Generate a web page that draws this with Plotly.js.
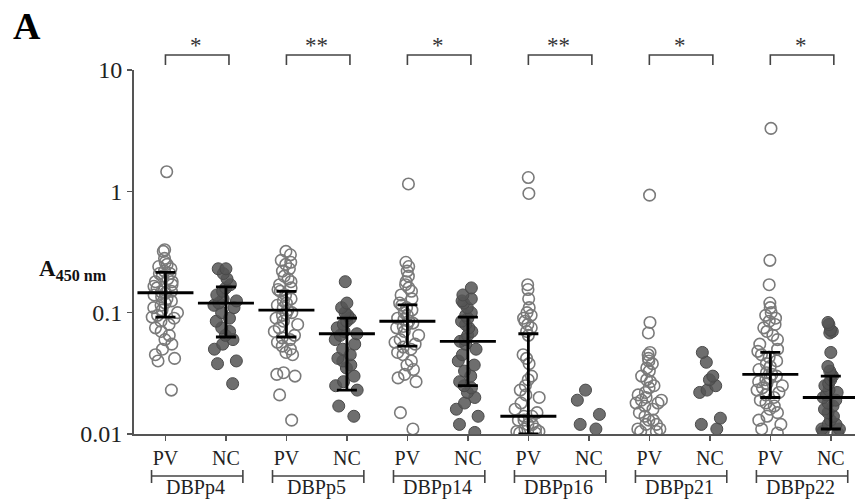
<!DOCTYPE html>
<html>
<head>
<meta charset="utf-8">
<script src="https://cdn.plot.ly/plotly-3.0.1.min.js"></script>
<style>html,body{margin:0;padding:0;background:#fff;}#chart{width:855px;height:500px;}</style>
</head>
<body>
<div id="chart"></div>
<script>
// ---- data ----
const peptides = ['DBPp4', 'DBPp5', 'DBPp14', 'DBPp16', 'DBPp21', 'DBPp22'];
const groupLabels = ['PV', 'NC'];
const significance = ['*', '**', '*', '**', '*', '*'];

const pv_DBPp4 = [1.45, 0.33, 0.32, 0.28, 0.26, 0.25, 0.24, 0.23, 0.22, 0.21, 0.21, 0.20, 0.19, 0.18, 0.18, 0.17, 0.165, 0.16, 0.155, 0.15, 0.148, 0.145, 0.14, 0.135, 0.13, 0.125, 0.12, 0.115, 0.11, 0.105, 0.10, 0.095, 0.092, 0.09, 0.085, 0.08, 0.075, 0.07, 0.065, 0.06, 0.055, 0.05, 0.045, 0.042, 0.04, 0.023];
const nc_DBPp4 = [0.23, 0.23, 0.21, 0.19, 0.17, 0.16, 0.15, 0.14, 0.13, 0.125, 0.12, 0.115, 0.11, 0.10, 0.09, 0.085, 0.075, 0.07, 0.065, 0.06, 0.055, 0.05, 0.04, 0.038, 0.026];
const pv_DBPp5 = [0.32, 0.30, 0.27, 0.26, 0.25, 0.23, 0.22, 0.20, 0.19, 0.18, 0.17, 0.16, 0.155, 0.15, 0.14, 0.13, 0.125, 0.12, 0.115, 0.11, 0.105, 0.10, 0.098, 0.095, 0.09, 0.085, 0.08, 0.075, 0.07, 0.065, 0.062, 0.06, 0.057, 0.053, 0.05, 0.047, 0.045, 0.032, 0.031, 0.03, 0.021, 0.013];
const nc_DBPp5 = [0.18, 0.12, 0.11, 0.10, 0.095, 0.09, 0.085, 0.08, 0.075, 0.07, 0.067, 0.065, 0.06, 0.055, 0.05, 0.045, 0.042, 0.04, 0.037, 0.035, 0.03, 0.027, 0.025, 0.023, 0.017, 0.014];
const pv_DBPp14 = [1.15, 0.26, 0.24, 0.22, 0.20, 0.18, 0.17, 0.16, 0.15, 0.14, 0.13, 0.12, 0.115, 0.11, 0.105, 0.10, 0.095, 0.09, 0.088, 0.085, 0.082, 0.08, 0.077, 0.075, 0.07, 0.065, 0.06, 0.057, 0.055, 0.052, 0.05, 0.047, 0.045, 0.04, 0.037, 0.034, 0.031, 0.029, 0.027, 0.015, 0.011];
const nc_DBPp14 = [0.16, 0.14, 0.13, 0.125, 0.12, 0.11, 0.10, 0.095, 0.09, 0.085, 0.08, 0.075, 0.07, 0.065, 0.06, 0.058, 0.055, 0.05, 0.045, 0.04, 0.037, 0.033, 0.03, 0.027, 0.025, 0.024, 0.022, 0.02, 0.018, 0.016, 0.014, 0.012, 0.0103];
const pv_DBPp16 = [1.30, 0.96, 0.17, 0.155, 0.13, 0.11, 0.10, 0.095, 0.09, 0.085, 0.08, 0.075, 0.07, 0.065, 0.045, 0.042, 0.038, 0.03, 0.028, 0.025, 0.023, 0.021, 0.02, 0.018, 0.016, 0.015, 0.014, 0.014, 0.013, 0.013, 0.012, 0.012, 0.011, 0.011, 0.0105, 0.0105, 0.0102, 0.0102];
const nc_DBPp16 = [0.023, 0.019, 0.0145, 0.012, 0.011];
const pv_DBPp21 = [0.93, 0.083, 0.068, 0.047, 0.045, 0.042, 0.04, 0.038, 0.035, 0.033, 0.03, 0.028, 0.027, 0.025, 0.024, 0.022, 0.021, 0.02, 0.019, 0.019, 0.018, 0.018, 0.017, 0.016, 0.015, 0.014, 0.013, 0.013, 0.012, 0.012, 0.011, 0.011, 0.0105, 0.0105];
const nc_DBPp21 = [0.047, 0.039, 0.03, 0.028, 0.025, 0.023, 0.022, 0.0135, 0.012, 0.011];
const pv_DBPp22 = [3.3, 0.27, 0.17, 0.12, 0.11, 0.10, 0.095, 0.09, 0.085, 0.08, 0.075, 0.07, 0.065, 0.06, 0.055, 0.05, 0.048, 0.045, 0.043, 0.04, 0.038, 0.036, 0.034, 0.032, 0.031, 0.03, 0.029, 0.028, 0.027, 0.026, 0.025, 0.024, 0.023, 0.022, 0.021, 0.02, 0.019, 0.018, 0.017, 0.016, 0.015, 0.014, 0.013, 0.012, 0.011, 0.0102];
const nc_DBPp22 = [0.083, 0.08, 0.072, 0.07, 0.068, 0.047, 0.036, 0.033, 0.031, 0.03, 0.028, 0.026, 0.025, 0.023, 0.022, 0.021, 0.02, 0.019, 0.018, 0.017, 0.016, 0.015, 0.014, 0.013, 0.012, 0.012, 0.011, 0.011, 0.0105, 0.0102];

// median and interquartile range drawn in the picture (null = not drawn)
const medianPV = [0.146, 0.105, 0.085, 0.014, null, 0.031];
const q1PV     = [0.092, 0.063, 0.053, 0.010, null, 0.020];
const q3PV     = [0.215, 0.150, 0.116, 0.067, null, 0.047];
const medianNC = [0.120, 0.067, 0.058, null, null, 0.020];
const q1NC     = [0.063, 0.023, 0.025, null, null, 0.011];
const q3NC     = [0.163, 0.090, 0.092, null, null, 0.030];

const pvValues = [pv_DBPp4, pv_DBPp5, pv_DBPp14, pv_DBPp16, pv_DBPp21, pv_DBPp22];
const ncValues = [nc_DBPp4, nc_DBPp5, nc_DBPp14, nc_DBPp16, nc_DBPp21, nc_DBPp22];

// ---- build ----
const FONT = '"Liberation Serif", "Times New Roman", serif';
const traces = [];
const pvMarker = {symbol: 'circle', size: 11.5, color: 'rgba(255,255,255,0)', line: {color: '#7a7a7a', width: 1.6}};
const ncMarker = {symbol: 'circle', size: 12, color: 'rgba(85,85,85,0.85)', line: {color: '#4a4a4a', width: 1}};

function boxTrace(vals, pos, marker) {
  return {
    type: 'box', y: vals, x0: pos, width: 0.6,
    boxpoints: 'all', jitter: 0.75, pointpos: 0,
    line: {width: 0, color: 'rgba(0,0,0,0)'}, fillcolor: 'rgba(0,0,0,0)',
    marker: marker, showlegend: false, hoverinfo: 'y'
  };
}
peptides.forEach((p, i) => {
  traces.push(boxTrace(pvValues[i], 2 * i, pvMarker));
  traces.push(boxTrace(ncValues[i], 2 * i + 1, ncMarker));
});

const mx = [], my = [], ep = [], em = [];
peptides.forEach((p, i) => {
  mx.push(2 * i, 2 * i + 1);
  my.push(medianPV[i], medianNC[i]);
  ep.push(medianPV[i] == null ? null : q3PV[i] - medianPV[i], medianNC[i] == null ? null : q3NC[i] - medianNC[i]);
  em.push(medianPV[i] == null ? null : medianPV[i] - q1PV[i], medianNC[i] == null ? null : medianNC[i] - q1NC[i]);
});
traces.push({
  type: 'scatter', mode: 'markers', x: mx, y: my, cliponaxis: false,
  marker: {symbol: 'line-ew', size: 40, color: '#000', line: {color: '#000', width: 2.8}},
  error_y: {type: 'data', symmetric: false, array: ep, arrayminus: em, color: '#000', thickness: 2.8, width: 10},
  showlegend: false, hoverinfo: 'y'
});

const tickvals = [], ticktext = [];
peptides.forEach((p, i) => { groupLabels.forEach((g, j) => { tickvals.push(2 * i + j); ticktext.push(g); }); });

const shapes = [], annotations = [];
const lineStyle = {color: '#444', width: 1.6};
peptides.forEach((p, i) => {
  const a = 2 * i, b = 2 * i + 1.05;
  // significance bracket
  shapes.push({type: 'path', xref: 'x', yref: 'paper',
    path: `M ${a} 1.0137 L ${a} 1.0412 L ${b} 1.0412 L ${b} 1.0137`, line: lineStyle});
  annotations.push({xref: 'x', yref: 'paper', x: 2 * i + 0.5, y: 1.027, yanchor: 'bottom',
    text: significance[i], showarrow: false, font: {family: FONT, size: 23, color: '#333'}});
  // group bracket
  const g0 = 2 * i - 0.23, g1 = 2 * i + 1.28;
  shapes.push({type: 'line', xref: 'x', yref: 'paper', x0: g0, x1: g1, y0: -0.1154, y1: -0.1154, line: lineStyle});
  shapes.push({type: 'line', xref: 'x', yref: 'paper', x0: g0, x1: g0, y0: -0.0989, y1: -0.1346, line: lineStyle});
  shapes.push({type: 'line', xref: 'x', yref: 'paper', x0: g1, x1: g1, y0: -0.0989, y1: -0.1346, line: lineStyle});
  annotations.push({xref: 'x', yref: 'paper', x: 2 * i + 0.5, y: -0.148, yanchor: 'middle',
    text: p, showarrow: false, font: {family: FONT, size: 20, color: '#222'}});
});
annotations.push({xref: 'paper', yref: 'paper', x: -0.085, y: 0.45, xanchor: 'center', yanchor: 'middle',
  text: '<b>A<sub>450 nm</sub></b>', showarrow: false, font: {family: FONT, size: 23, color: '#111'}});
annotations.push({xref: 'paper', yref: 'paper', x: -0.17, y: 1.12, xanchor: 'left', yanchor: 'middle',
  text: '<b>A</b>', showarrow: false, font: {family: FONT, size: 38, color: '#000'}});

const layout = {
  width: 855, height: 500,
  margin: {l: 134, r: 0, t: 70, b: 66},
  paper_bgcolor: '#fff', plot_bgcolor: '#fff',
  showlegend: false,
  xaxis: {type: 'linear', range: [-0.52, 11.4], tickvals: tickvals, ticktext: ticktext,
    showgrid: false, zeroline: false, showline: true, linecolor: '#555', linewidth: 2,
    ticks: 'outside', ticklen: 5, tickcolor: '#555', tickwidth: 1.5,
    tickfont: {family: FONT, size: 20, color: '#222'}},
  yaxis: {type: 'log', range: [-2, 1], tickvals: [0.01, 0.1, 1, 10], ticktext: ['0.01', '0.1', '1', '10'],
    showgrid: false, zeroline: false, showline: true, linecolor: '#555', linewidth: 2,
    ticks: 'outside', ticklen: 5, tickcolor: '#555', tickwidth: 1.5,
    tickfont: {family: FONT, size: 24, color: '#222'}},
  shapes: shapes, annotations: annotations
};
Plotly.newPlot('chart', traces, layout, {displayModeBar: false, staticPlot: true});
</script>
</body>
</html>
